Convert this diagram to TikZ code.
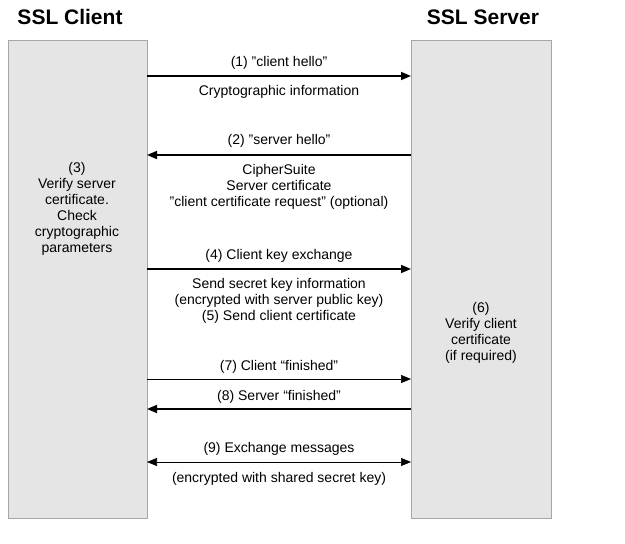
\documentclass[tikz,border=0pt]{standalone}
\usepackage{fontspec}
\setmainfont{Liberation Sans}
\usetikzlibrary{arrows.meta}
\newcommand{\dq}{{\char34}}
\tikzset{
  party/.style={draw=gray!70,fill=gray!20,line width=0.6pt},
  msg/.style={line width=1.6pt,-{Triangle[length=10pt,width=8pt]}},
  thinmsg/.style={line width=0.6pt,-{Triangle[length=10pt,width=8pt]}},
  lbl/.style={font=\fontsize{14}{16}\selectfont,align=center},
  title/.style={font=\fontsize{21}{24}\selectfont\bfseries}
}
\begin{document}
\begin{tikzpicture}[x=1pt,y=-1pt]
    \useasboundingbox (0,0) rectangle (625,544);
    % Define the two parties
    \draw[party] (8,40) rectangle (147,518);
    \draw[party] (411,40) rectangle (551,518);
    \node[title] (client) at (70,17) {SSL Client};
    \node[title] (server) at (483,17) {SSL Server};

    % Points on the box edges
    \foreach \n/\y in {1/76,2/155,4/269,7/379,8/409,9/462} {
      \coordinate (c\n) at (147,\y);
      \coordinate (s\n) at (411,\y);
    }

    % Draw the messages
    \draw[msg] (c1) -- (s1);
    \draw[msg] (s2) -- (c2);
    \draw[msg] (c4) -- (s4);
    \draw[thinmsg] (c7) -- (s7);
    \draw[msg] (s8) -- (c8);
    \draw[thinmsg,{Triangle[length=10pt,width=8pt]}-{Triangle[length=10pt,width=8pt]}] (c9) -- (s9);

    % Label the messages
    \node[lbl] (m1a) at (279,63) {(1) \dq client hello\dq};
    \node[lbl] (m1b) at (279,92) {Cryptographic information};
    \node[lbl] (m2a) at (279,141) {(2) \dq server hello\dq};
    \node[lbl] (m2b) at (279,187) {CipherSuite\\Server certificate\\\dq client certificate request\dq\ (optional)};
    \node[lbl] (m4a) at (279,256) {(4) Client key exchange};
    \node[lbl] (m4b) at (279,301) {Send secret key information\\(encrypted with server public key)\\(5) Send client certificate};
    \node[lbl] (m7) at (279,367) {(7) Client “finished”};
    \node[lbl] (m8) at (279,397) {(8) Server “finished”};
    \node[lbl] (m9a) at (279,449) {(9) Exchange messages};
    \node[lbl] (m9b) at (279,479) {(encrypted with shared secret key)};

    % Notes inside the boxes
    \node[lbl] (n3) at (77,209) {(3)\\Verify server\\certificate.\\Check\\cryptographic\\parameters};
    \node[lbl] (n6) at (481,333) {(6)\\Verify client\\certificate\\(if required)};
\end{tikzpicture}
\end{document}
